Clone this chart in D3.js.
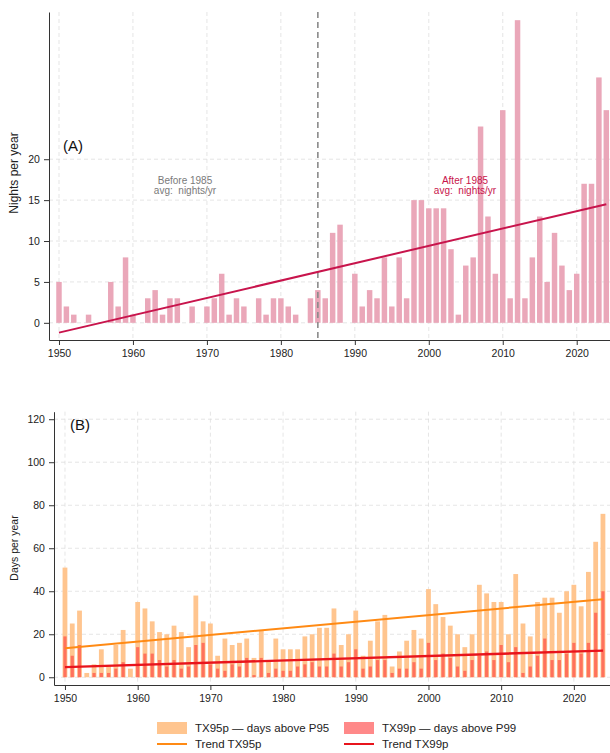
<!DOCTYPE html>
<html>
<head>
<meta charset="utf-8">
<script src="https://cdn.jsdelivr.net/npm/d3@7"></script>
<style>
  html, body { margin: 0; padding: 0; background: #fff; }
  svg { display: block; font-family: "Liberation Sans", Arial, Helvetica, sans-serif; }
  .pre { white-space: pre; }
</style>
</head>
<body>
<svg id="chart" width="610" height="753"></svg>
<script>
// ---- data ----
const years = d3.range(1950, 2025);

// (A) tropical nights per year
const nights = [
  5, 2, 1, 0, 1, 0, 0, 5, 2, 8,
  1, 0, 3, 4, 1, 3, 3, 0, 2, 0,
  2, 3, 6, 1, 3, 2, 0, 3, 1, 3,
  3, 2, 1, 0, 3, 4, 3, 11, 12, 0,
  6, 2, 4, 3, 8, 2, 8, 3, 15, 15,
  14, 14, 14, 9, 1, 7, 8, 24, 13, 6,
  26, 3, 37, 3, 8, 13, 5, 11, 7, 4,
  6, 17, 17, 30, 26
];
const nightsTrend = [{ year: 1950, value: -1.2 }, { year: 2024, value: 14.5 }];
const splitYear = 1985;
const nightsTicks = [0, 5, 10, 15, 20];

// (B) hot days per year
const tx95 = [
  51, 25, 31, 2, 6, 13, 5, 15, 22, 4,
  35, 32, 26, 21, 20, 24, 21, 14, 38, 26,
  25, 10, 18, 15, 16, 18, 9, 22, 8, 18,
  13, 13, 13, 19, 20, 23, 23, 32, 15, 20,
  31, 10, 17, 26, 29, 5, 12, 17, 22, 18,
  41, 34, 28, 24, 20, 14, 20, 43, 39, 35,
  35, 20, 48, 25, 19, 35, 37, 37, 30, 40,
  43, 33, 49, 63, 76
];
const tx99 = [
  19, 10, 15, 0, 2, 2, 2, 4, 7, 0,
  14, 11, 11, 8, 5, 8, 4, 5, 15, 16,
  6, 4, 3, 6, 5, 9, 1, 9, 2, 4,
  3, 3, 5, 6, 7, 5, 5, 11, 5, 7,
  13, 4, 5, 8, 8, 2, 4, 4, 7, 4,
  16, 8, 11, 9, 5, 3, 8, 10, 12, 8,
  15, 7, 14, 2, 5, 10, 18, 8, 8, 11,
  16, 11, 16, 30, 40
];
const tx95Trend = [{ year: 1950, value: 13.5 }, { year: 2024, value: 36.3 }];
const tx99Trend = [{ year: 1950, value: 4.7 }, { year: 2024, value: 12.4 }];
const daysTicks = [0, 20, 40, 60, 80, 100, 120];
const decadeTicks = [1950, 1960, 1970, 1980, 1990, 2000, 2010, 2020];

// ---- styles ----
const C = {
  pink: "#eaa7b9",
  crimson: "#c8144c",
  grey: "#7a7a7a",
  grid: "#dedede",
  axis: "#333",
  tx95: "#ffc58f",
  tx99: "#ff3b3b",
  tx99Opacity: 0.6,
  tr95: "#ff8a14",
  tr99: "#e8141c"
};

const svg = d3.select("#chart");

function gridAndAxes(g, x, y, yTicks, top, bottom, left, right, yLabel, yLabelCenter, yLabelSize) {
  // dashed grid
  g.append("g").selectAll("line.v").data(decadeTicks).join("line")
    .attr("x1", d => x(d)).attr("x2", d => x(d))
    .attr("y1", top).attr("y2", bottom)
    .attr("stroke", C.grid).attr("stroke-dasharray", "4,3").attr("stroke-width", 0.8);
  g.append("g").selectAll("line.h").data(yTicks).join("line")
    .attr("x1", left).attr("x2", right)
    .attr("y1", d => y(d)).attr("y2", d => y(d))
    .attr("stroke", C.grid).attr("stroke-dasharray", "4,3").attr("stroke-width", 0.8);

  const xAxis = g.append("g").attr("transform", `translate(0,${bottom})`)
    .call(d3.axisBottom(x).tickValues(decadeTicks).tickFormat(d3.format("d")).tickSize(5).tickSizeOuter(0));
  const yAxis = g.append("g").attr("transform", `translate(${left},0)`)
    .call(d3.axisLeft(y).tickValues(yTicks).tickSize(5).tickSizeOuter(0));
  [xAxis, yAxis].forEach(a => {
    a.select(".domain").attr("stroke", C.axis).attr("stroke-width", 1);
    a.selectAll(".tick line").attr("stroke", C.axis);
    a.selectAll(".tick text").attr("fill", "#222").style("font-size", "10.5px")
      .style("font-family", "'Liberation Sans', Arial, sans-serif");
  });
  xAxis.selectAll(".tick text").attr("dy", "0.9em");
  yAxis.selectAll(".tick text").attr("dx", "-0.1em");

  g.append("text")
    .attr("transform", `translate(14,${yLabelCenter}) rotate(-90)`)
    .attr("text-anchor", "middle").attr("dy", "0.35em")
    .style("font-size", yLabelSize).attr("fill", "#222")
    .text(yLabel);
}

// ---------- Panel A ----------
{
  const top = 12, bottom = 340, left = 49, right = 610;
  const x = d3.scaleLinear().domain([1948.65, 2024.5]).range([left, right]);
  const y = d3.scaleLinear().domain([-2.1, 38]).range([bottom, top]);
  const step = x(1951) - x(1950);
  const g = svg.append("g");

  gridAndAxes(g, x, y, nightsTicks, top, bottom, left, right, "Nights per year", 173, "12px");

  const bw = step * 0.74;
  g.append("g").selectAll("rect").data(years.map((yr, i) => ({ yr, v: nights[i] })).filter(d => d.v > 0))
    .join("rect")
    .attr("x", d => x(d.yr) - bw / 2).attr("width", bw)
    .attr("y", d => y(d.v)).attr("height", d => y(0) - y(d.v))
    .attr("fill", C.pink);

  // split marker
  g.append("line")
    .attr("x1", x(splitYear)).attr("x2", x(splitYear))
    .attr("y1", top).attr("y2", bottom)
    .attr("stroke", "#8a8a8a").attr("stroke-width", 1.6).attr("stroke-dasharray", "6,4");

  // linear trend
  g.append("path").datum(nightsTrend)
    .attr("d", d3.line().x(d => x(d.year)).y(d => y(d.value)))
    .attr("fill", "none").attr("stroke", C.crimson).attr("stroke-width", 2);

  g.append("text").attr("x", 63).attr("y", 146).attr("dy", "0.35em")
    .style("font-size", "15px").attr("fill", "#111").text("(A)");

  const note = (cx, color, lines) => {
    lines.forEach((t, i) => {
      g.append("text").attr("class", "pre")
        .attr("x", cx).attr("y", 180 + i * 10.5).attr("dy", "0.35em")
        .attr("text-anchor", "middle").style("font-size", "10px")
        .attr("fill", color).text(t);
    });
  };
  note(185, C.grey, ["Before 1985", "avg:  nights/yr"]);
  note(465, C.crimson, ["After 1985", "avg:  nights/yr"]);
}

// ---------- Panel B ----------
{
  const top = 411.7, bottom = 685, left = 54, right = 610;
  const x = d3.scaleLinear().domain([1948.49, 2024.97]).range([left, right]);
  const y = d3.scaleLinear().domain([-3.6, 123.5]).range([bottom, top]);
  const step = x(1951) - x(1950);
  const g = svg.append("g");

  gridAndAxes(g, x, y, daysTicks, top, bottom, left, right, "Days per year", 548, "10.5px");

  const rows = years.map((yr, i) => ({ yr, a: tx95[i], b: tx99[i] }));
  const w95 = step * 0.66, w99 = step * 0.44;
  g.append("g").selectAll("rect").data(rows.filter(d => d.a > 0)).join("rect")
    .attr("x", d => x(d.yr) - w95 / 2).attr("width", w95)
    .attr("y", d => y(d.a)).attr("height", d => y(0) - y(d.a))
    .attr("fill", C.tx95);
  g.append("g").selectAll("rect").data(rows.filter(d => d.b > 0)).join("rect")
    .attr("x", d => x(d.yr) - w99 / 2).attr("width", w99)
    .attr("y", d => y(d.b)).attr("height", d => y(0) - y(d.b))
    .attr("fill", C.tx99).attr("fill-opacity", C.tx99Opacity);

  const line = d3.line().x(d => x(d.year)).y(d => y(d.value));
  g.append("path").datum(tx95Trend).attr("d", line)
    .attr("fill", "none").attr("stroke", C.tr95).attr("stroke-width", 2);
  g.append("path").datum(tx99Trend).attr("d", line)
    .attr("fill", "none").attr("stroke", C.tr99).attr("stroke-width", 2.4);

  g.append("text").attr("x", 70).attr("y", 425).attr("dy", "0.35em")
    .style("font-size", "15px").attr("fill", "#111").text("(B)");

  // legend
  const lg = svg.append("g").style("font-size", "11.5px").attr("fill", "#222");
  const items = [
    { x: 157, kind: "rect", color: C.tx95, op: 1, label: "TX95p \u2014 days above P95", row: 0 },
    { x: 344, kind: "rect", color: C.tx99, op: C.tx99Opacity, label: "TX99p \u2014 days above P99", row: 0 },
    { x: 157, kind: "line", color: C.tr95, label: "Trend TX95p", row: 1 },
    { x: 344, kind: "line", color: C.tr99, label: "Trend TX99p", row: 1 }
  ];
  items.forEach(it => {
    const cy = it.row === 0 ? 728 : 744;
    if (it.kind === "rect") {
      lg.append("rect").attr("x", it.x).attr("y", cy - 6).attr("width", 30).attr("height", 12)
        .attr("fill", it.color).attr("fill-opacity", it.op);
    } else {
      lg.append("line").attr("x1", it.x).attr("x2", it.x + 30).attr("y1", cy).attr("y2", cy)
        .attr("stroke", it.color).attr("stroke-width", 2);
    }
    lg.append("text").attr("x", it.x + 38).attr("y", cy).attr("dy", "0.35em").text(it.label);
  });
}
</script>
</body>
</html>
